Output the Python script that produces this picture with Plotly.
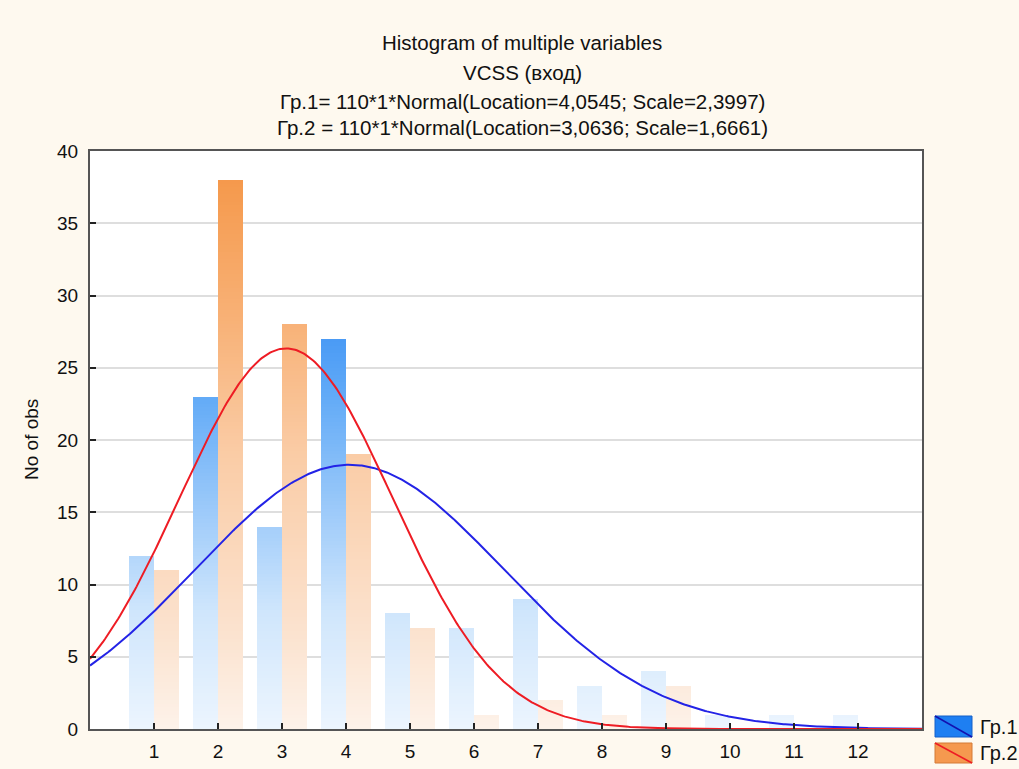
import numpy as np
import plotly.graph_objects as go

# ---- data ----
categories = [1, 2, 3, 4, 5, 6, 7, 8, 9, 10, 11, 12]
gr1_counts = [12, 23, 14, 27, 8, 7, 9, 3, 4, 1, 1, 1]
gr2_counts = [11, 38, 28, 19, 7, 1, 2, 1, 3, 0, 0, 0]
series_names = ["Гр.1", "Гр.2"]
fit_n = [110, 110]
fit_location = [4.0545, 3.0636]
fit_scale = [2.3997, 1.6661]
y_ticks = [0, 5, 10, 15, 20, 25, 30, 35, 40]
y_title = "No of obs"

title_lines = [
    "Histogram of multiple variables",
    "VCSS (вход)",
    "Гр.1= 110*1*Normal(Location=4,0545; Scale=2,3997)",
    "Гр.2 = 110*1*Normal(Location=3,0636; Scale=1,6661)",
]

# ---- layout geometry ----
W, H = 1019, 769
L, R, T, B = 90, 922, 151, 729
FONT = "Liberation Sans, Arial, sans-serif"


def px(x):
    return (x - L) / (R - L)


def py(y):
    return (B - y) / (B - T)


# colour ramps (value on y axis -> colour), vertical gradient in bars
blue_stops = [(0, (236, 245, 254)), (8, (208, 230, 252)), (14, (165, 207, 250)),
              (23, (98, 170, 247)), (27, (74, 155, 245)), (40, (40, 128, 240))]
orange_stops = [(0, (253, 242, 233)), (7, (251, 226, 206)), (19, (250, 204, 166)),
                (28, (248, 178, 120)), (38, (245, 153, 76)), (40, (244, 148, 68))]


def ramp(stops, v):
    for (a, ca), (b, cb) in zip(stops[:-1], stops[1:]):
        if v <= b:
            t = (v - a) / (b - a)
            c = [round(ca[i] + (cb[i] - ca[i]) * t) for i in range(3)]
            return f"rgb({c[0]},{c[1]},{c[2]})"
    c = stops[-1][1]
    return f"rgb({c[0]},{c[1]},{c[2]})"


fig = go.Figure()

bar_w = 0.39
step = 0.25
for counts, stops, offset in [(gr1_counts, blue_stops, -bar_w), (gr2_counts, orange_stops, 0.0)]:
    top = max(counts)
    k = 0
    while k * step < top:
        base = k * step
        xs, hs = [], []
        for c, v in zip(categories, counts):
            if v > base:
                xs.append(c)
                hs.append(min(step, v - base))
        fig.add_trace(go.Bar(
            x=xs, y=hs, base=[base] * len(xs), width=bar_w, offset=offset,
            marker=dict(color=ramp(stops, base + step / 2), line=dict(width=0)),
            showlegend=False, hoverinfo="skip",
        ))
        k += 1

# fitted normal curves
xx = np.linspace(0, 13, 500)
for n, mu, sd, col in zip(fit_n, fit_location, fit_scale, ["#2323E6", "#EE1C24"]):
    yy = n * np.exp(-0.5 * ((xx - mu) / sd) ** 2) / (sd * np.sqrt(2 * np.pi))
    fig.add_trace(go.Scatter(x=xx, y=yy, mode="lines",
                             line=dict(color=col, width=2),
                             showlegend=False, hoverinfo="skip"))

# title lines
title_y = [42, 72, 101, 127]
for txt, yy_ in zip(title_lines, title_y):
    fig.add_annotation(x=px(522), y=py(yy_), xref="paper", yref="paper",
                       text=txt, showarrow=False, xanchor="center", yanchor="middle",
                       font=dict(family=FONT, size=20.5, color="#111111"))

# y axis title
fig.add_annotation(x=px(31), y=py(440), xref="paper", yref="paper", text=y_title,
                   textangle=-90, showarrow=False, xanchor="center", yanchor="middle",
                   font=dict(family=FONT, size=19, color="#111111"))

# legend (custom swatches)
sw = [(716, 737, "#1E7FF2", "#1560C8", "#1212B0", series_names[0]),
      (743, 763, "#F5994F", "#D47A36", "#EE1C24", series_names[1])]
for y0, y1, fill, border, diag, name in sw:
    fig.add_shape(type="rect", xref="paper", yref="paper",
                  x0=px(935), x1=px(972), y0=py(y1), y1=py(y0),
                  fillcolor=fill, line=dict(color=border, width=1))
    fig.add_shape(type="line", xref="paper", yref="paper",
                  x0=px(935), x1=px(972), y0=py(y0), y1=py(y1),
                  line=dict(color=diag, width=1.5))
    fig.add_annotation(x=px(978), y=py((y0 + y1) / 2), xref="paper", yref="paper",
                       text=name, showarrow=False, xanchor="left", yanchor="middle",
                       font=dict(family=FONT, size=20, color="#111111"))

fig.update_layout(
    width=W, height=H,
    margin=dict(l=L, r=W - R, t=T, b=H - B, pad=0, autoexpand=False),
    paper_bgcolor="#FEF9EF",
    plot_bgcolor="#FFFFFF",
    barmode="overlay",
    bargap=0,
    showlegend=False,
    font=dict(family=FONT, color="#111111"),
    xaxis=dict(range=[0, 13], tickvals=categories, ticktext=[str(c) for c in categories],
               ticks="inside", ticklen=6, tickwidth=1.5, tickcolor="#222222",
               showgrid=False, zeroline=False, showline=True, mirror=True,
               linecolor="#555555", linewidth=2, ticklabelstandoff=4, automargin=False,
               tickfont=dict(family=FONT, size=19, color="#111111")),
    yaxis=dict(range=[0, 40], tickvals=y_ticks,
               ticks="inside", ticklen=6, tickwidth=1.5, tickcolor="#222222",
               showgrid=True, gridcolor="#DEDEDE", gridwidth=1.5,
               zeroline=False, showline=True, mirror=True,
               linecolor="#555555", linewidth=2, ticklabelstandoff=6, automargin=False,
               tickfont=dict(family=FONT, size=19, color="#111111")),
)

fig.write_html("out.html")
